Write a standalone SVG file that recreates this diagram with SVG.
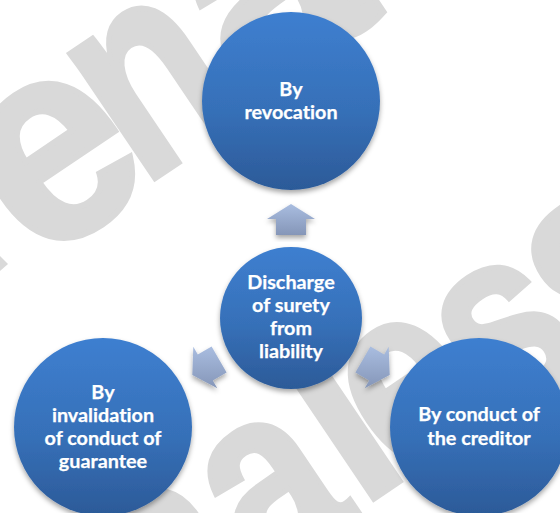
<svg xmlns="http://www.w3.org/2000/svg" width="560" height="513" viewBox="0 0 560 513">
<style>
.wm{font-family:"Liberation Sans",Arial,sans-serif;font-weight:700;font-size:285px;fill:#d9d9d9;stroke:#d9d9d9;stroke-width:6px}
.sm{font-size:262px;stroke-width:5px}
.c{fill:url(#cg);filter:url(#sh)}
.a{fill:url(#ag);filter:url(#sh)}
.t{font-family:Lato,"Open Sans",sans-serif;font-weight:700;font-size:19.8px;fill:#fff;stroke:#fff;stroke-width:.25px;text-anchor:middle;font-variant-ligatures:none}
</style>
<defs>
<linearGradient id="cg" x1="0" y1="0" x2="0" y2="1"><stop offset="0" stop-color="#3e7fd0"/><stop offset="0.55" stop-color="#3670b8"/><stop offset="1" stop-color="#2c5a98"/></linearGradient>
<linearGradient id="ag" x1="0" y1="0" x2="0" y2="1"><stop offset="0" stop-color="#a9bde0"/><stop offset="1" stop-color="#8596b8"/></linearGradient>
<filter id="sh" x="-20%" y="-20%" width="140%" height="140%"><feDropShadow dx="0" dy="3" stdDeviation="2.5" flood-color="#000" flood-opacity="0.35"/></filter>
</defs>
<rect width="560" height="513" fill="#fff"/>
<g id="watermark">
<polygon points="0,256 8,264 0,271" fill="#d9d9d9"/>
<text class="wm" transform="translate(36,266) rotate(-34) scale(.95,1)">e</text>
<text class="wm" transform="translate(142,187) rotate(-34) scale(.76,1)">n</text>
<text class="wm" transform="translate(249,105) rotate(-34) scale(1.02,1)">a</text>
<text class="wm sm" transform="translate(162,650) rotate(-34) scale(.82,1)">a</text>
<text class="wm sm" transform="translate(262,584) rotate(-34) scale(.82,1)">a</text>
<text class="wm" transform="translate(360,508) rotate(-34) scale(.82,1)">l</text>
<text class="wm sm" transform="translate(400,484) rotate(-34) scale(.82,1)">e</text>
<text class="wm sm" transform="translate(497,428) rotate(-34) scale(.82,1)">s</text>
<text class="wm" transform="translate(592,372) rotate(-34) scale(.82,1)">s</text>
</g>
<g id="connectors">
<polygon class="a" points="291,204 315,219 306,219 306,235 276,235 276,219 267,219"/>
<polygon class="a" points="192.3,375 193.3,346.7 197.8,354.5 211.6,346.5 226.6,372.5 212.8,380.5 217.3,388.3"/>
<polygon class="a" points="389.7,375 388.7,346.7 384.2,354.5 370.4,346.5 355.4,372.5 369.2,380.5 364.7,388.3"/>
</g>
<g id="node-top"><circle class="c" cx="291" cy="101" r="89"/>
<text class="t" x="291" y="96">By</text><text class="t" x="291" y="119">revocation</text></g>
<g id="node-center"><circle class="c" cx="291" cy="318" r="71"/>
<text class="t" x="291" y="289">Discharge</text><text class="t" x="291" y="312">of surety</text><text class="t" x="291" y="335">from</text><text class="t" x="291" y="358">liability</text></g>
<g id="node-left"><circle class="c" cx="103" cy="427" r="89"/>
<text class="t" x="103" y="399">By</text><text class="t" x="103" y="422">invalidation</text><text class="t" x="103" y="445">of conduct of</text><text class="t" x="103" y="468">guarantee</text></g>
<g id="node-right"><circle class="c" cx="479" cy="427" r="89"/>
<text class="t" x="479" y="421">By conduct of</text><text class="t" x="479" y="445">the creditor</text></g>
</svg>
